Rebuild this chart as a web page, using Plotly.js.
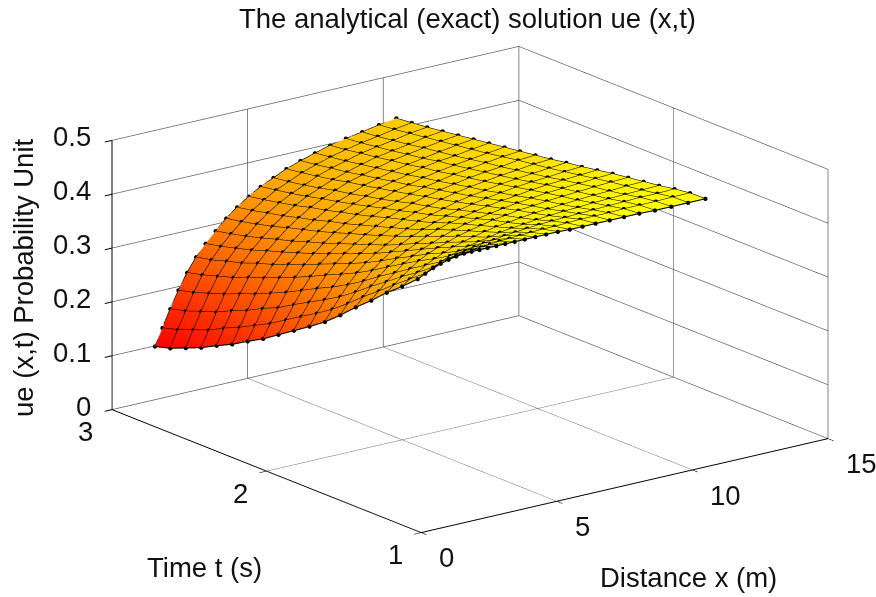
<!DOCTYPE html>
<html><head><meta charset="utf-8">
<script src="https://cdn.plot.ly/plotly-3.0.0.min.js"></script>
<style>html,body{margin:0;padding:0;background:#fff}#c{width:876px;height:597px}</style>
</head><body><div id="c"></div>
<script>
const xDist = [1.58,1.86,2.15,2.45,2.77,3.10,3.45,3.82,4.21,4.61,5.04,5.48,5.95,6.43,6.95,7.48,8.04,8.62,9.22,9.84,10.48];
const tTime = [3.0,2.9,2.8,2.7,2.6,2.5,2.4,2.3,2.2,2.1,2.0,1.9,1.8,1.7,1.6,1.5,1.4,1.3,1.2,1.1,1.0];
const ue = [
[.099,.130,.162,.193,.222,.247,.268,.287,.306,.322,.337,.350,.361,.372,.381,.389,.397,.403,.408,.414,.419],
[.107,.138,.169,.200,.229,.253,.274,.293,.311,.327,.342,.355,.365,.376,.385,.393,.400,.406,.411,.417,.422],
[.119,.149,.180,.210,.238,.262,.282,.300,.318,.334,.348,.360,.370,.381,.390,.397,.405,.410,.415,.421,.425],
[.131,.160,.190,.220,.247,.270,.290,.308,.325,.340,.354,.366,.376,.386,.394,.402,.409,.414,.419,.425,.429],
[.146,.175,.204,.232,.259,.281,.300,.317,.334,.348,.362,.373,.383,.393,.400,.407,.414,.419,.424,.429,.433],
[.160,.188,.216,.243,.269,.290,.309,.325,.342,.355,.368,.379,.388,.398,.405,.412,.418,.423,.428,.433,.437],
[.177,.203,.231,.256,.281,.302,.319,.335,.350,.364,.376,.386,.395,.404,.411,.417,.424,.429,.432,.437,.441],
[.193,.218,.244,.269,.293,.312,.329,.344,.359,.371,.383,.393,.401,.410,.416,.423,.428,.433,.437,.441,.445],
[.212,.236,.261,.284,.306,.325,.340,.355,.369,.380,.391,.401,.408,.416,.423,.428,.434,.438,.442,.446,.449],
[.231,.254,.277,.299,.320,.337,.352,.365,.378,.389,.400,.408,.416,.423,.429,.434,.439,.443,.446,.451,.453],
[.250,.271,.293,.313,.333,.349,.363,.376,.388,.398,.408,.416,.422,.429,.435,.440,.444,.448,.451,.455,.457],
[.270,.290,.310,.329,.347,.362,.375,.386,.398,.407,.416,.423,.429,.436,.441,.445,.450,.453,.456,.459,.462],
[.294,.312,.330,.347,.363,.377,.389,.399,.409,.417,.425,.432,.438,.443,.448,.452,.456,.459,.461,.464,.466],
[.320,.336,.352,.367,.381,.393,.403,.412,.421,.429,.436,.441,.446,.451,.455,.458,.462,.465,.467,.469,.471],
[.344,.358,.372,.385,.398,.408,.417,.424,.432,.439,.445,.450,.454,.458,.462,.465,.468,.470,.472,.474,.476],
[.370,.381,.393,.404,.415,.424,.431,.437,.444,.449,.454,.459,.462,.466,.468,.471,.473,.475,.477,.479,.480],
[.393,.403,.412,.422,.430,.437,.444,.449,.454,.459,.463,.466,.469,.472,.474,.476,.478,.480,.481,.483,.484],
[.418,.425,.433,.440,.447,.452,.457,.461,.465,.469,.472,.474,.477,.479,.481,.482,.484,.485,.486,.487,.488],
[.450,.455,.459,.464,.468,.471,.474,.476,.479,.481,.483,.485,.486,.487,.488,.489,.490,.491,.492,.492,.493],
[.478,.480,.482,.484,.486,.487,.489,.490,.491,.492,.493,.493,.494,.495,.495,.495,.496,.496,.496,.497,.497],
[.500,.500,.500,.500,.500,.500,.500,.500,.500,.500,.500,.499,.499,.499,.499,.499,.499,.498,.498,.498,.498]
];
const xTicks = [0,5,10,15];
const tTicks = [1,2,3];
const zTicks = [0,0.1,0.2,0.3,0.4,0.5];
const titleText = "The analytical (exact) solution ue (x,t)";
const xTitle = "Distance x (m)";
const tTitle = "Time t (s)";
const zTitle = "ue (x,t) Probability Unit";
const FONT = "Liberation Sans, Arial, sans-serif";
const FS = 27.5;

const mx=[],my=[],mz=[],px=[],py=[],pz=[];
tTime.forEach((t,j)=>{ xDist.forEach((x,i)=>{ mx.push(x);my.push(t);mz.push(ue[j][i]); px.push(x);py.push(t);pz.push(ue[j][i]); }); mx.push(null);my.push(null);mz.push(null); });
xDist.forEach((x,i)=>{ tTime.forEach((t,j)=>{ mx.push(x);my.push(t);mz.push(ue[j][i]); }); mx.push(null);my.push(null);mz.push(null); });

const traces=[
 {type:'surface',x:xDist,y:tTime,z:ue,showscale:false,cmin:0.099,cmax:0.5,
  colorscale:[[0,'#ff0000'],[1,'#ffff00']],
  lighting:{ambient:1,diffuse:0,specular:0,roughness:1,fresnel:0},hoverinfo:'skip'},
 {type:'scatter3d',mode:'lines',x:mx,y:my,z:mz,line:{color:'#000',width:2.2},hoverinfo:'skip',showlegend:false},
 {type:'scatter3d',mode:'markers',x:px,y:py,z:pz,marker:{color:'#000',size:2.5},hoverinfo:'skip',showlegend:false}
];
const ann=[];
const tf={family:FONT,size:FS,color:'#111'};
xTicks.forEach(v=>ann.push({x:v,y:1,z:0,text:String(v),showarrow:false,xanchor:'left',yanchor:'middle',xshift:16,yshift:-25,font:tf}));
tTicks.forEach(v=>ann.push({x:0,y:v,z:0,text:String(v),showarrow:false,xanchor:'center',yanchor:'middle',xshift:-26,yshift:-22,font:tf}));
zTicks.forEach(v=>ann.push({x:0,y:3,z:v,text:String(v),showarrow:false,xanchor:'right',yanchor:'middle',xshift:-19,yshift:3.5,font:tf}));
const ax=(r,tv)=>({range:r,tickvals:tv,showticklabels:false,ticks:'outside',ticklen:9,tickcolor:'#000',tickwidth:2,showline:true,linecolor:'#000',linewidth:2,
  gridcolor:'#5e5e5e',gridwidth:1.5,zeroline:false,showbackground:false,showspikes:false,title:{text:''}});
const L=1.25;
const layout={width:876,height:597,margin:{l:0,r:0,t:0,b:0},paper_bgcolor:'#fff',showlegend:false,
 title:{text:titleText,font:tf,x:467.5/876,xanchor:'center',y:1-18/597,yanchor:'middle'},
 scene:{domain:{x:[0.073,1],y:[0.03,1]},
  aspectmode:'manual',aspectratio:{x:1.767,y:1.762,z:0.976},
  xaxis:ax([0,15],xTicks),yaxis:ax([1,3],tTicks),zaxis:ax([0,0.5],zTicks),
  camera:{projection:{type:'orthographic'},up:{x:0,y:0,z:1},center:{x:0,y:0,z:0},eye:{x:-0.5775*L,y:-0.758*L,z:0.303*L}},
  annotations:ann},
 annotations:[
  {xref:'paper',yref:'paper',x:204.5/876,y:1-567/597,xanchor:'center',yanchor:'middle',text:tTitle,showarrow:false,font:tf},
  {xref:'paper',yref:'paper',x:688/876,y:1-577/597,xanchor:'center',yanchor:'middle',text:xTitle,showarrow:false,font:tf},
  {xref:'paper',yref:'paper',x:23/876,y:1-278/597,xanchor:'center',yanchor:'middle',text:zTitle,showarrow:false,textangle:-90,font:tf}
 ]};
Plotly.newPlot('c',traces,layout,{displayModeBar:false});
</script></body></html>
